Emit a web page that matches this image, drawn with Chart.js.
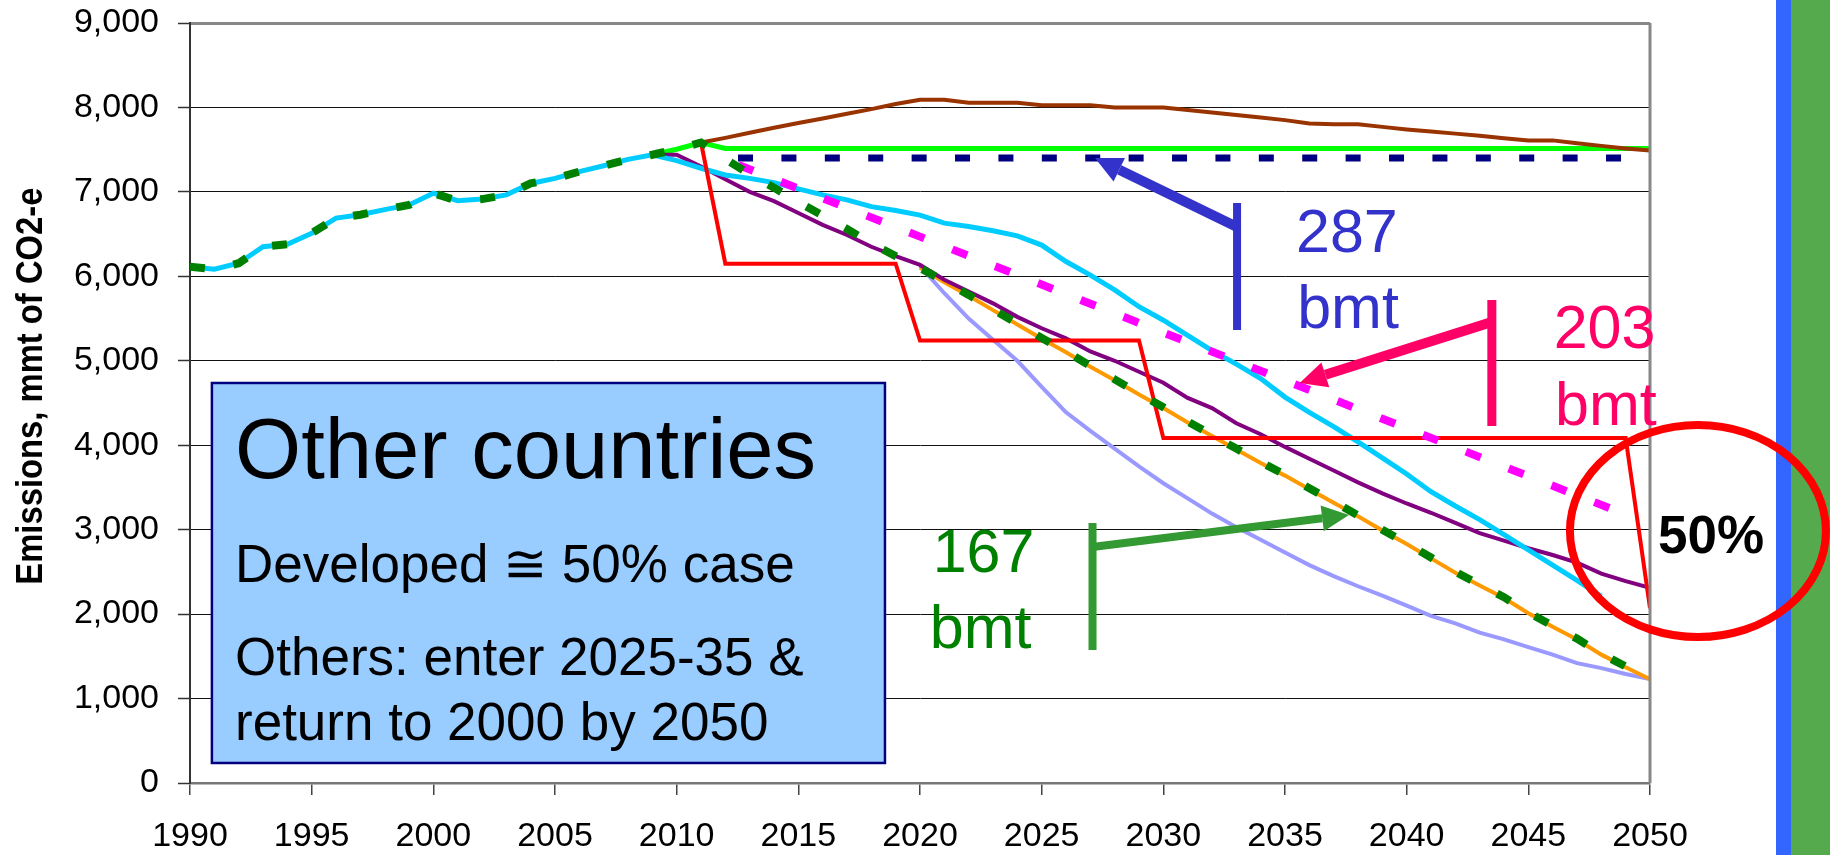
<!DOCTYPE html>
<html>
<head>
<meta charset="utf-8">
<script src="https://cdn.jsdelivr.net/npm/chart.js@4.4.0/dist/chart.umd.min.js"></script>
<style>
  html, body { margin: 0; padding: 0; background: #fff; }
  canvas { display: block; }
</style>
</head>
<body>
<canvas id="chart" width="1830" height="855"></canvas>
<script>
// history 1990-2009
const historical = [6115, 6085, 6155, 6350, 6380, 6510, 6690, 6730, 6790, 6845,
  6985, 6895, 6915, 6965, 7100, 7160, 7240, 7310, 7385, 7440];

// cyan path 2010-2048
const cyanPath = [7370, 7280, 7200, 7160, 7110, 7035, 6965, 6905, 6825, 6780,
  6725, 6630, 6590, 6540, 6480, 6370, 6175, 6015, 5840, 5640,
  5480, 5300, 5120, 4960, 4790, 4570, 4390, 4220, 4040, 3850,
  3660, 3450, 3280, 3120, 2940, 2760, 2580, 2400, 2210];

// dark green dashed path 2010-2050
const greenDashPath = [7505, 7585, 7390, 7210, 7050, 6880, 6720, 6560, 6390, 6240,
  6100, 5940, 5780, 5610, 5440, 5270, 5110, 4940, 4780, 4610,
  4450, 4280, 4120, 3960, 3800, 3650, 3490, 3330, 3170, 3000,
  2840, 2670, 2500, 2350, 2200, 2020, 1860, 1710, 1530, 1380, 1240];

// purple 2010-2050 (starts from 2009 history)
const purplePath = [7440, 7300, 7150, 7000, 6890, 6750, 6610, 6490, 6350, 6240,
  6135, 5960, 5820, 5680, 5520, 5385, 5265, 5110, 5000, 4870,
  4740, 4560, 4440, 4260, 4130, 3980, 3840, 3700, 3560, 3430,
  3310, 3200, 3080, 2960, 2870, 2780, 2700, 2610, 2480, 2390, 2310];

// orange 2020-2050
const orangePath = [6100, 5930, 5770, 5600, 5430, 5260, 5100, 4930, 4770, 4600,
  4440, 4270, 4110, 3950, 3790, 3640, 3480, 3320, 3160, 2990,
  2830, 2660, 2490, 2340, 2190, 2010, 1850, 1700, 1520, 1370, 1230];

// lavender 2020-2050
const lavenderPath = [6120, 5800, 5500, 5250, 5000, 4690, 4390, 4170, 3960, 3750,
  3550, 3370, 3190, 3030, 2880, 2730, 2580, 2450, 2330, 2220,
  2100, 1980, 1890, 1780, 1700, 1610, 1520, 1420, 1360, 1290, 1230];

// brown 2011-2050
const brownPath = [7585, 7640, 7700, 7760, 7815, 7870, 7925, 7980, 8040, 8090,
  8090, 8055, 8055, 8055, 8025, 8025, 8025, 8000, 8000, 8000,
  7970, 7940, 7910, 7880, 7850, 7810, 7800, 7800, 7770, 7740,
  7715, 7690, 7665, 7635, 7610, 7610, 7575, 7545, 7515, 7490];

// sparse series (year / value pairs)
const limeYears = [2009, 2010, 2011, 2012, 2050];
const limeValues = [7440, 7505, 7585, 7515, 7515];
const navyYears = [2012, 2049];
const navyValues = [7400, 7400];
const magentaYears = [2012, 2020, 2030, 2040, 2049];
const magentaValues = [7380, 6470, 5335, 4200, 3180];
const redYears = [2011, 2012, 2019, 2020, 2029, 2030, 2049, 2050];
const redValues = [7585, 6150, 6150, 5240, 5240, 4085, 4085, 2070];

const yTicks = [0, 1000, 2000, 3000, 4000, 5000, 6000, 7000, 8000, 9000];

const pts = (start, vals) => vals.map((v, i) => ({ x: start + i, y: v }));
const pairs = (xs, ys) => xs.map((x, i) => ({ x: x, y: ys[i] }));

const FONT = "'Liberation Sans', Arial, sans-serif";
Chart.defaults.font.family = FONT;

function line(data, color, width, dash, offset) {
  return {
    data: data,
    borderColor: color,
    borderWidth: width,
    borderDash: dash || [],
    borderDashOffset: offset || 0,
    pointRadius: 0,
    fill: false,
    tension: 0
  };
}

function arrow(ctx, x1, y1, x2, y2, w, color) {
  const ang = Math.atan2(y2 - y1, x2 - x1);
  const head = 27, half = 13;
  const bx = x2 - head * Math.cos(ang), by = y2 - head * Math.sin(ang);
  ctx.strokeStyle = color;
  ctx.lineWidth = w;
  ctx.lineCap = 'butt';
  ctx.beginPath();
  ctx.moveTo(x1, y1);
  ctx.lineTo(bx, by);
  ctx.stroke();
  ctx.fillStyle = color;
  ctx.beginPath();
  ctx.moveTo(x2, y2);
  ctx.lineTo(bx + half * Math.sin(ang), by - half * Math.cos(ang));
  ctx.lineTo(bx - half * Math.sin(ang), by + half * Math.cos(ang));
  ctx.closePath();
  ctx.fill();
}

function bar(ctx, x, y1, y2, w, color) {
  ctx.strokeStyle = color;
  ctx.lineWidth = w;
  ctx.beginPath();
  ctx.moveTo(x, y1);
  ctx.lineTo(x, y2);
  ctx.stroke();
}

const notes = {
  id: 'notes',
  afterDraw(chart) {
    const { ctx, chartArea: a, scales } = chart;
    const X = v => scales.x.getPixelForValue(v);
    const Y = v => scales.y.getPixelForValue(v);
    ctx.save();

    // right frame of the plot
    ctx.strokeStyle = '#888';
    ctx.lineWidth = 3;
    ctx.beginPath();
    ctx.moveTo(a.right, a.top);
    ctx.lineTo(a.right, a.bottom);
    ctx.stroke();

    // y title (slightly condensed like the original)
    ctx.save();
    ctx.translate(42, Y(4700));
    ctx.rotate(-Math.PI / 2);
    ctx.scale(0.886, 1);
    ctx.fillStyle = '#000';
    ctx.font = 'bold 37px ' + FONT;
    ctx.textAlign = 'center';
    ctx.textBaseline = 'alphabetic';
    ctx.fillText('Emissions, mmt of CO2-e', 0, 0);
    ctx.restore();

    // text box
    const bx0 = X(1990.9), bx1 = X(2018.56), by0 = Y(4737), by1 = Y(237);
    ctx.fillStyle = '#99CCFF';
    ctx.fillRect(bx0, by0, bx1 - bx0, by1 - by0);
    ctx.strokeStyle = '#000080';
    ctx.lineWidth = 2.5;
    ctx.strokeRect(bx0, by0, bx1 - bx0, by1 - by0);
    ctx.fillStyle = '#000';
    ctx.textAlign = 'left';
    ctx.textBaseline = 'alphabetic';
    ctx.font = '85px ' + FONT;
    ctx.fillText('Other countries', X(1991.85), Y(3612));
    ctx.font = '53px ' + FONT;
    ctx.fillText('Developed \u2245 50% case', X(1991.85), Y(2380));
    ctx.fillText('Others: enter 2025-35 &', X(1991.85), Y(1279));
    ctx.fillText('return to 2000 by 2050', X(1991.85), Y(509));

    // 287 bmt
    bar(ctx, X(2033.03), Y(6869), Y(5365), 8, '#3333CC');
    arrow(ctx, X(2033.03), Y(6584), X(2027.19), Y(7401), 10, '#3333CC');
    ctx.fillStyle = '#3333CC';
    ctx.font = '61px ' + FONT;
    ctx.fillText('287', X(2035.45), Y(6288));
    ctx.fillText('bmt', X(2035.5), Y(5388));

    // 203 bmt
    bar(ctx, X(2043.5), Y(5720), Y(4228), 9, '#FF0066');
    arrow(ctx, X(2043.5), Y(5459), X(2035.6), Y(4737), 10, '#FF0066');
    ctx.fillStyle = '#FF0066';
    ctx.fillText('203', X(2046.04), Y(5151));
    ctx.fillText('bmt', X(2046.1), Y(4240));

    // 167 bmt
    bar(ctx, X(2027.09), Y(3079), Y(1575), 8, '#339933');
    arrow(ctx, X(2027.09), Y(2795), X(2037.63), Y(3174), 8, '#339933');
    ctx.fillStyle = '#008000';
    ctx.fillText('167', X(2020.52), Y(2502));
    ctx.fillText('bmt', X(2020.4), Y(1599));

    // side bars
    ctx.fillStyle = '#3366FF';
    ctx.fillRect(1776, 0, 15, chart.height);
    ctx.fillStyle = '#55AA4D';
    ctx.fillRect(1791, 0, chart.width - 1791, chart.height);

    // 50% ring
    ctx.fillStyle = '#000';
    ctx.font = 'bold 53px ' + FONT;
    ctx.fillText('50%', X(2050.33), Y(2724));
    ctx.strokeStyle = '#FF0000';
    ctx.lineWidth = 8;
    ctx.beginPath();
    ctx.ellipse(X(2051.97), Y(2984), 128, 106, 0, 0, Math.PI * 2);
    ctx.stroke();

    ctx.restore();
  }
};

new Chart(document.getElementById('chart'), {
  type: 'line',
  data: {
    datasets: [
      line(pts(1990, historical.concat(greenDashPath)), '#008000', 8, [15, 29], 0),
      line(pairs(magentaYears, magentaValues), '#FF00FF', 8, [16, 30], 32),
      line(pairs(navyYears, navyValues), '#000080', 7, [15, 28.4], 30.7),
      line(pairs(redYears, redValues), '#FF0000', 4),
      line(pts(1990, historical.concat(cyanPath)), '#00CCFF', 5),
      line(pts(2009, [historical[19]].concat(purplePath)), '#800080', 4),
      line(pts(2020, orangePath), '#FF9900', 4),
      line(pts(2020, lavenderPath), '#9999FF', 4),
      line(pts(2011, brownPath), '#993300', 4),
      line(pairs(limeYears, limeValues), '#00FF00', 5)
    ]
  },
  options: {
    responsive: false,
    animation: false,
    layout: { padding: { left: 0, right: 180, top: 23, bottom: 0 } },
    plugins: { legend: { display: false }, tooltip: { enabled: false } },
    scales: {
      x: {
        type: 'linear',
        min: 1990,
        max: 2050,
        afterFit: s => { s.height = 72; },
        ticks: {
          stepSize: 5,
          autoSkip: false,
          maxRotation: 0,
          padding: 21,
          color: '#000',
          font: { size: 34 },
          callback: v => String(v)
        },
        grid: { drawOnChartArea: false, tickLength: 12, color: '#444', lineWidth: 1.5 },
        border: { color: '#777', width: 2.5 }
      },
      y: {
        min: 0,
        max: 9000,
        afterFit: s => { s.width = 190; s.paddingTop = 0; s.paddingBottom = 0; },
        afterBuildTicks: s => { s.ticks = yTicks.map(v => ({ value: v })); },
        ticks: {
          padding: 19,
          color: '#000',
          font: { size: 34 },
          callback: v => v.toLocaleString('en-US')
        },
        grid: {
          tickLength: 12,
          color: c => (c.tick && c.tick.value === 9000 ? '#888' : '#111'),
          lineWidth: c => (c.tick && c.tick.value === 9000 ? 3 : 1),
          tickColor: '#333',
          tickWidth: 1.5
        },
        border: { color: '#333', width: 2 }
      }
    }
  },
  plugins: [notes]
});
</script>
</body>
</html>
